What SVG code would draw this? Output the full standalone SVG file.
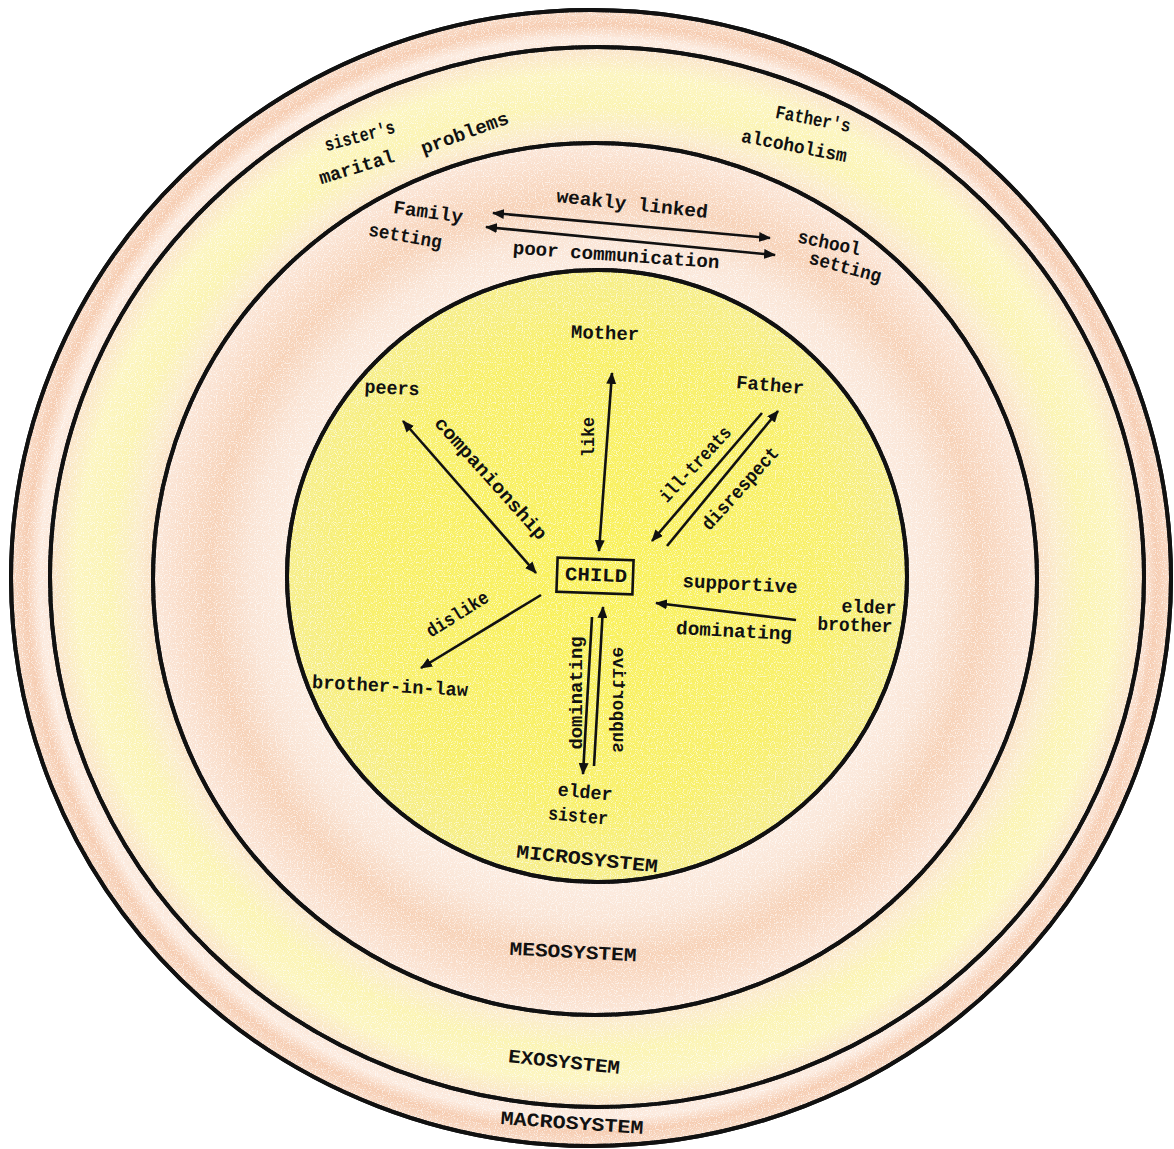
<svg xmlns="http://www.w3.org/2000/svg" width="1174" height="1149" viewBox="0 0 1174 1149">
<style>
.t{font-family:"Liberation Mono","DejaVu Sans Mono",monospace;font-weight:bold;font-size:19px;fill:#111;dominant-baseline:central;text-anchor:middle}
.cap{font-family:"Liberation Mono","DejaVu Sans Mono",monospace;font-weight:bold;font-size:19px;fill:#111;dominant-baseline:central;text-anchor:middle}
.ring{stroke:#111;stroke-width:4}
.arr{stroke:#111;stroke-width:2.6;fill:none}
</style>
<defs>
<marker id="ah" viewBox="0 0 12 10" refX="11" refY="5" markerWidth="12" markerHeight="10" markerUnits="userSpaceOnUse" orient="auto-start-reverse">
<path d="M0,0 L12,5 L0,10 z" fill="#111"/>
</marker>
<radialGradient id="gMacro" cx="0.5" cy="0.5" r="0.5">
<stop offset="0.9" stop-color="#fae2d0"/>
<stop offset="0.95" stop-color="#fcebdf"/>
<stop offset="0.975" stop-color="#f6cdb2"/>
<stop offset="1" stop-color="#f9dcc8"/>
</radialGradient>
<radialGradient id="gExo" cx="0.5" cy="0.5" r="0.5">
<stop offset="0.8" stop-color="#f9dcc6"/>
<stop offset="0.84" stop-color="#fbeccb"/>
<stop offset="0.89" stop-color="#fbf4b4"/>
<stop offset="0.95" stop-color="#fcf5c0"/>
<stop offset="1" stop-color="#fae3cc"/>
</radialGradient>
<radialGradient id="gMeso" cx="0.5" cy="0.5" r="0.5">
<stop offset="0.68" stop-color="#fcede2"/>
<stop offset="0.78" stop-color="#fae5d6"/>
<stop offset="0.87" stop-color="#f7d3b9"/>
<stop offset="0.95" stop-color="#fadfcc"/>
<stop offset="1" stop-color="#fbe7d9"/>
</radialGradient>
<radialGradient id="gMicro" cx="0.5" cy="0.5" r="0.5">
<stop offset="0" stop-color="#f9f15a"/>
<stop offset="0.75" stop-color="#f8f06c"/>
<stop offset="1" stop-color="#f6ee8c"/>
</radialGradient>
<filter id="speck" x="0" y="0" width="1" height="1">
<feTurbulence type="fractalNoise" baseFrequency="0.85" numOctaves="1" seed="3"/>
<feColorMatrix type="matrix" values="0 0 0 0 1  0 0 0 0 1  0 0 0 0 1  6 0 0 0 -3.1"/>
</filter>
<clipPath id="clipAll"><ellipse cx="591" cy="578" rx="580" ry="568"/></clipPath>
</defs>
<rect width="1174" height="1149" fill="#ffffff"/>
<g id="rings">
<ellipse id="macrosystem" class="ring" cx="591" cy="578" rx="580" ry="568" fill="url(#gMacro)"/>
<ellipse id="exosystem" class="ring" cx="597" cy="577" rx="547" ry="530" fill="url(#gExo)"/>
<ellipse id="mesosystem" class="ring" cx="595" cy="579" rx="442" ry="436" fill="url(#gMeso)"/>
<ellipse id="microsystem" class="ring" cx="597" cy="576" rx="310" ry="306" fill="url(#gMicro)"/>
</g>
<g id="texture" clip-path="url(#clipAll)" opacity="0.6">
<rect x="0" y="0" width="1174" height="1149" filter="url(#speck)"/>
</g>
<g id="ring-outlines" fill="none">
<ellipse class="ring" cx="591" cy="578" rx="580" ry="568"/>
<ellipse class="ring" cx="597" cy="577" rx="547" ry="530"/>
<ellipse class="ring" cx="595" cy="579" rx="442" ry="436"/>
<ellipse class="ring" cx="597" cy="576" rx="310" ry="306"/>
</g>
<g id="system-labels">
<text class="cap" transform="translate(587,860) rotate(6)" textLength="142" lengthAdjust="spacingAndGlyphs">MICROSYSTEM</text>
<text class="cap" transform="translate(573,953) rotate(3)" textLength="127" lengthAdjust="spacingAndGlyphs">MESOSYSTEM</text>
<text class="cap" transform="translate(564,1063) rotate(6)" textLength="112" lengthAdjust="spacingAndGlyphs">EXOSYSTEM</text>
<text class="cap" transform="translate(572,1124) rotate(4)" textLength="143" lengthAdjust="spacingAndGlyphs">MACROSYSTEM</text>
</g>
<g id="exo-sister">
<text class="t" transform="translate(360,137) rotate(-15)" textLength="72" lengthAdjust="spacingAndGlyphs">sister's</text>
<text class="t" transform="translate(357,168) rotate(-17)" textLength="78" lengthAdjust="spacingAndGlyphs">marital</text>
<text class="t" transform="translate(465,134) rotate(-20)" textLength="92" lengthAdjust="spacingAndGlyphs">problems</text>
</g>
<g id="exo-father">
<text class="t" transform="translate(813,120) rotate(11)" textLength="76" lengthAdjust="spacingAndGlyphs">Father's</text>
<text class="t" transform="translate(794,147) rotate(11)" textLength="107" lengthAdjust="spacingAndGlyphs">alcoholism</text>
</g>
<g id="family-setting">
<text class="t" transform="translate(428,213) rotate(8)" textLength="70" lengthAdjust="spacingAndGlyphs">Family</text>
<text class="t" transform="translate(405,237) rotate(10)" textLength="74" lengthAdjust="spacingAndGlyphs">setting</text>
</g>
<g id="school-setting">
<text class="t" transform="translate(829,244) rotate(12)" textLength="64" lengthAdjust="spacingAndGlyphs">school</text>
<text class="t" transform="translate(845,268) rotate(15)" textLength="74" lengthAdjust="spacingAndGlyphs">setting</text>
</g>
<g id="mother"><text class="t" transform="translate(605,334) rotate(2)" textLength="68" lengthAdjust="spacingAndGlyphs">Mother</text></g>
<g id="peers"><text class="t" transform="translate(392,389) rotate(3)" textLength="55" lengthAdjust="spacingAndGlyphs">peers</text></g>
<g id="father"><text class="t" transform="translate(770,386) rotate(5)" textLength="68" lengthAdjust="spacingAndGlyphs">Father</text></g>
<g id="child">
<rect x="-38" y="-17" width="76" height="34" transform="translate(595,576) rotate(2)" fill="none" stroke="#111" stroke-width="2.6"/>
<text class="t" transform="translate(596,576) rotate(2)" textLength="62" lengthAdjust="spacingAndGlyphs">CHILD</text>
</g>
<g id="elder-brother">
<text class="t" transform="translate(869,608) rotate(2)" textLength="55" lengthAdjust="spacingAndGlyphs">elder</text>
<text class="t" transform="translate(855,626) rotate(2)" textLength="75" lengthAdjust="spacingAndGlyphs">brother</text>
</g>
<g id="brother-in-law"><text class="t" transform="translate(390,687) rotate(3)" textLength="156" lengthAdjust="spacingAndGlyphs">brother-in-law</text></g>
<g id="elder-sister">
<text class="t" transform="translate(585,793) rotate(5)" textLength="55" lengthAdjust="spacingAndGlyphs">elder</text>
<text class="t" transform="translate(578,817) rotate(5)" textLength="60" lengthAdjust="spacingAndGlyphs">sister</text>
</g>
<g id="connectors" class="arr">
<line x1="493" y1="213" x2="770" y2="238" marker-start="url(#ah)" marker-end="url(#ah)"/>
<line x1="486" y1="227" x2="775" y2="255" marker-start="url(#ah)" marker-end="url(#ah)"/>
<line x1="612" y1="373" x2="599" y2="551" marker-start="url(#ah)" marker-end="url(#ah)"/>
<line x1="403" y1="421" x2="536" y2="573" marker-start="url(#ah)" marker-end="url(#ah)"/>
<line x1="762" y1="413" x2="652" y2="541" marker-end="url(#ah)"/>
<line x1="667" y1="546" x2="778" y2="411" marker-end="url(#ah)"/>
<line x1="796" y1="620" x2="656" y2="603" marker-end="url(#ah)"/>
<line x1="541" y1="595" x2="421" y2="668" marker-end="url(#ah)"/>
<line x1="592" y1="617" x2="583" y2="774" marker-end="url(#ah)"/>
<line x1="594" y1="766" x2="603" y2="607" marker-end="url(#ah)"/>
</g>
<g id="connector-labels">
<text class="t" transform="translate(632,205) rotate(6)" textLength="152" lengthAdjust="spacingAndGlyphs">weakly linked</text>
<text class="t" transform="translate(616,256) rotate(4)" textLength="207" lengthAdjust="spacingAndGlyphs">poor communication</text>
<text class="t" transform="translate(589,437) rotate(-90)" textLength="40" lengthAdjust="spacingAndGlyphs">like</text>
<text class="t" transform="translate(490,479) rotate(48)" textLength="158" lengthAdjust="spacingAndGlyphs">companionship</text>
<text class="t" transform="translate(696,465) rotate(-47)" textLength="96" lengthAdjust="spacingAndGlyphs">ill-treats</text>
<text class="t" transform="translate(741,489) rotate(-48)" textLength="105" lengthAdjust="spacingAndGlyphs">disrespect</text>
<text class="t" transform="translate(740,585) rotate(3)" textLength="115" lengthAdjust="spacingAndGlyphs">supportive</text>
<text class="t" transform="translate(734,632) rotate(3)" textLength="116" lengthAdjust="spacingAndGlyphs">dominating</text>
<text class="t" transform="translate(458,615) rotate(-32)" textLength="70" lengthAdjust="spacingAndGlyphs">dislike</text>
<text class="t" transform="translate(577,693) rotate(-90)" textLength="113" lengthAdjust="spacingAndGlyphs">dominating</text>
<text class="t" transform="translate(618,700) rotate(-90) scale(1,-1)" textLength="106" lengthAdjust="spacingAndGlyphs">supportive</text>
</g>
</svg>
